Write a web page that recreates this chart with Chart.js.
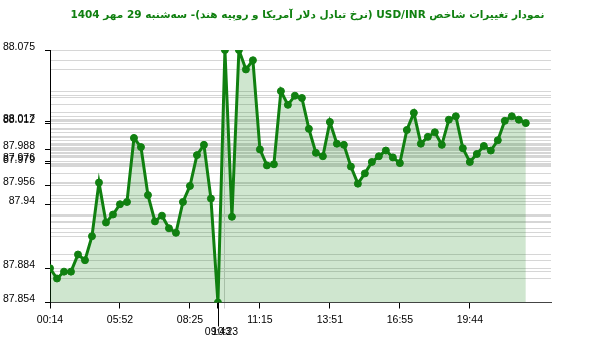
<!DOCTYPE html>
<html>
<head>
<meta charset="utf-8">
<script src="https://cdn.jsdelivr.net/npm/chart.js@4"></script>
<style>
  body { margin: 0; background: #fff; }
  #wrap { position: relative; width: 600px; height: 352px; }
  #title {
    position: absolute; left: 0; top: 8px; width: 600px; padding-left: 15px; box-sizing: border-box;
    text-align: center; direction: rtl;
    font: bold 10.5px "DejaVu Sans", sans-serif; color: #108010;
  }
</style>
</head>
<body>
<div id="wrap">
  <div id="title">نمودار تغییرات شاخص USD/INR (نرخ تبادل دلار آمریکا و روپیه هند)- سه‌شنبه  29 مهر 1404</div>
  <canvas id="my_chart" width="600" height="352"></canvas>
</div>
<script>
// one value per point
var values = [
  87.884, 87.875, 87.881, 87.881, 87.896, 87.891, 87.912, 87.959, 87.924, 87.931,
  87.940, 87.942, 87.998, 87.990, 87.948, 87.925, 87.930, 87.919, 87.915, 87.942,
  87.956, 87.983, 87.992, 87.945, 87.854, 88.075, 87.929, 88.075, 88.058, 88.066,
  87.988, 87.974, 87.975, 88.039, 88.027, 88.035, 88.033, 88.006, 87.985, 87.982,
  88.012, 87.993, 87.992, 87.973, 87.958, 87.967, 87.977, 87.982, 87.987, 87.981,
  87.976, 88.005, 88.020, 87.993, 87.999, 88.003, 87.992, 88.014, 88.017, 87.989,
  87.977, 87.984, 87.991, 87.987, 87.996, 88.013, 88.017, 88.014, 88.011
]

// x tick labels (point index -> time)
var xLabelIdx = [0, 10, 20, 30, 40, 50, 60]
var xLabelText = ['00:14', '05:52', '08:25', '11:15', '13:51', '16:55', '19:44']
var minIdx = 24, minTime = '09:43'
var maxIdx = 25, maxTime = '10:23'

// y tick labels (point index -> label shown on the axis)
var yLabelIdx = [0, 10, 20, 24, 25, 30, 40, 50, 60, 68]
var yLabelText = ['87.884', '87.94', '87.956', '87.854', '88.075', '87.988', '88.017', '87.979', '87.976', '88.012']

var green = 'rgb(16,128,16)'

Chart.defaults.font.family = 'Liberation Sans, Arial, sans-serif'
Chart.defaults.font.size = 10.5
Chart.defaults.color = '#000'

// long tick under the lowest point
var minTickPlugin = {
  id: 'minTick',
  afterDraw: function(chart) {
    var c = chart.ctx, xs = chart.scales.x
    var x = Math.round(xs.getPixelForValue(minIdx)) + 0.5
    c.save()
    c.strokeStyle = '#000'
    c.lineWidth = 1
    c.beginPath()
    c.moveTo(x, chart.chartArea.bottom)
    c.lineTo(x, chart.chartArea.bottom + 24)
    c.stroke()
    c.restore()
  }
}

var ctx = document.getElementById('my_chart')
var my_chart = new Chart(ctx, {
  type: 'line',
  data: {
    datasets: [{
      data: values.map(function(v, i) { return {x: i, y: v} }),
      borderColor: green,
      backgroundColor: 'rgba(16,128,16,0.2)',
      borderWidth: 3,
      pointRadius: 3.5,
      pointBackgroundColor: green,
      pointBorderColor: green,
      pointBorderWidth: 1,
      fill: 'start',
      tension: 0
    }]
  },
  options: {
    responsive: false,
    animation: false,
    events: [],
    layout: { padding: { top: 50, right: 49, left: 0, bottom: 0 } },
    plugins: { legend: { display: false }, tooltip: { enabled: false } },
    scales: {
      x: {
        type: 'linear',
        min: 0,
        max: 71.6,
        afterBuildTicks: function(scale) {
          scale.ticks = xLabelIdx.concat([minIdx, maxIdx]).map(function(i) { return {value: i} })
        },
        afterFit: function(scale) { scale.height = 49.5 },
        ticks: {
          autoSkip: false,
          maxRotation: 0,
          padding: 5,
          callback: function(v) {
            if (v === minIdx) return ['', minTime]
            if (v === maxIdx) return ['', maxTime]
            var k = xLabelIdx.indexOf(v)
            return k >= 0 ? xLabelText[k] : ''
          }
        },
        grid: {
          drawOnChartArea: true,
          tickLength: 6,
          color: function(c) { return c.tick && c.tick.value === maxIdx ? '#cfcfcf' : 'rgba(0,0,0,0)' },
          tickColor: function(c) { return c.tick && c.tick.value === maxIdx ? '#cfcfcf' : '#000' }
        },
        border: { color: '#444' }
      },
      y: {
        min: 87.854,
        max: 88.075,
        afterBuildTicks: function(scale) {
          scale.ticks = values.map(function(v, i) { return {value: v, idx: i} })
        },
        afterFit: function(scale) { scale.width = 50 },
        ticks: {
          autoSkip: false,
          padding: 10,
          font: { lineHeight: 0.64 },
          // second empty line lifts the label a little above its tick
          callback: function(v, i, t) {
            var k = yLabelIdx.indexOf(t[i].idx)
            return k >= 0 ? [yLabelText[k], ''] : ''
          }
        },
        grid: {
          tickLength: 5,
          color: '#d6d6d6',
          tickColor: function(c) {
            return c.tick && yLabelIdx.indexOf(c.tick.idx) >= 0 ? '#000' : 'rgba(0,0,0,0)'
          }
        },
        border: { color: '#000' }
      }
    }
  },
  plugins: [minTickPlugin]
})
</script>
</body>
</html>
